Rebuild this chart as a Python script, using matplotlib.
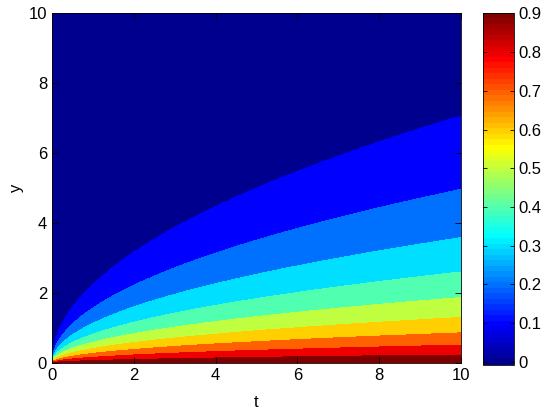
import matplotlib
matplotlib.use("Agg")
import matplotlib.pyplot as plt
import numpy as np
from matplotlib.colors import ListedColormap, Normalize

plt.rcParams['font.family'] = ['Liberation Sans', 'DejaVu Sans']

# contour levels and where each boundary sits on the right edge (t = 10)
levels = [0.1, 0.2, 0.3, 0.4, 0.5, 0.6, 0.7, 0.8, 0.9]
y_at_t10 = [7.05, 4.96, 3.58, 2.60, 1.87, 1.30, 0.86, 0.51, 0.23]
t_ref = 10.0
value_at_wall = 0.95
cbar_min, cbar_max = -0.008, 0.902
ticks = [0, 2, 4, 6, 8, 10]
cbar_ticks = [0, 0.1, 0.2, 0.3, 0.4, 0.5, 0.6, 0.7, 0.8, 0.9]
cbar_labels = ['0', '0.1', '0.2', '0.3', '0.4', '0.5', '0.6', '0.7', '0.8', '0.9']


def matlab_jet(m=64):
    # same construction as MATLAB's jet(m)
    n = int(np.ceil(m / 4))
    u = np.concatenate([np.arange(1, n + 1) / n, np.ones(n - 1), np.arange(n, 0, -1) / n])
    g = int(np.ceil(n / 2)) - (1 if m % 4 == 1 else 0) + np.arange(1, len(u) + 1)
    r = g + n
    b = g - n
    rgb = np.zeros((m, 3))
    for col, idx in ((0, r), (1, g), (2, b)):
        ok = (idx >= 1) & (idx <= m)
        rgb[idx[ok] - 1, col] = u[ok]
    return ListedColormap(rgb)


jet = matlab_jet(64)

# similarity profile value(y / sqrt(t)) built from the read boundaries
eta_pts = np.concatenate([[0.0], np.array(y_at_t10[::-1]) / np.sqrt(t_ref), [50.0]])
val_pts = np.concatenate([[value_at_wall], np.array(levels[::-1]), [0.0]])

t = np.linspace(0, 10, 401)
y = np.linspace(0, 10, 401)
T, Y = np.meshgrid(t, y)
eta = Y / np.sqrt(np.maximum(T, 1e-12))
Z = np.interp(eta, eta_pts, val_pts)

fig = plt.figure(figsize=(5.5, 4.17), dpi=100)
ax = fig.add_axes([0.0945, 0.1295, 0.7435, 0.8393])
cax = fig.add_axes([0.878, 0.1247, 0.0564, 0.8449])

band_colors = [jet(k / 9) for k in range(10)]
ax.contourf(T, Y, Z, levels=[-1] + levels + [2], colors=band_colors)

ax.set_xlim(0, 10)
ax.set_ylim(0, 10)
ax.set_xticks(ticks)
ax.set_yticks(ticks)
ax.tick_params(direction='in', top=True, right=True, labelsize=12, length=4, width=0.6)
ax.set_xlabel('t', fontsize=12, labelpad=9)
ax.set_ylabel('y', fontsize=12, labelpad=3)
for s in ax.spines.values():
    s.set_linewidth(0.6)

sm = matplotlib.cm.ScalarMappable(norm=Normalize(cbar_min, cbar_max), cmap=jet)
cb = fig.colorbar(sm, cax=cax, ticks=cbar_ticks)
cb.ax.set_yticklabels(cbar_labels)
cb.ax.tick_params(direction='in', left=True, right=True, labelsize=12, length=3, width=0.6)
cb.outline.set_linewidth(0.6)

fig.savefig('out.png', dpi=100)
